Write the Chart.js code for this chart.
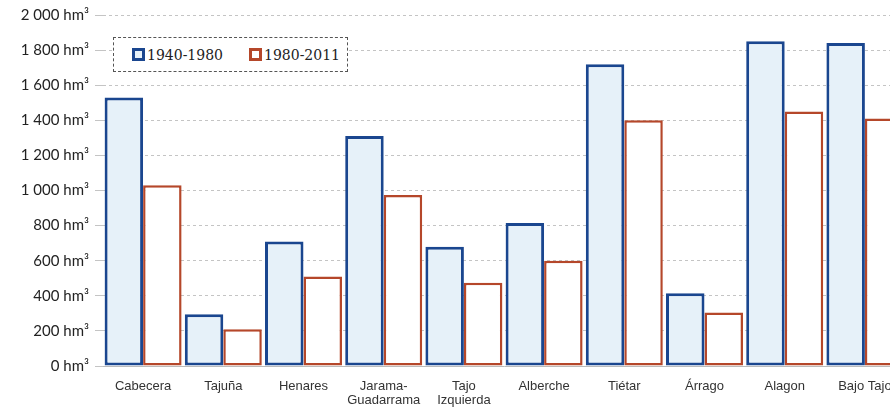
<!DOCTYPE html>
<html>
<head>
    <title>Aportaciones</title>
    <script src="https://cdn.jsdelivr.net/npm/chart.js"></script>
    <style>
        body { margin: 0; background: #fff; overflow: hidden; width: 890px; height: 409px; position: relative; }
        #legend {
            position: absolute; left: 113px; top: 37px; width: 235px; height: 35px;
            border: 1px dashed #555; background: #fff;
            font-family: "DejaVu Serif", "Liberation Serif", serif; font-size: 14px; color: #222;
            display: flex; align-items: center; box-sizing: border-box;
        }
        #legend span { display: inline-flex; align-items: center; }
        #legend i { display: inline-block; width: 7px; height: 7px; border: 3px solid; margin-right: 2px; }
    </style>
</head>
<body>
    <canvas id="chart" width="905" height="409"></canvas>
    <div id="legend">
        <span style="margin-left:18px"><i style="border-color:#1a468f;background:#e6f1f9"></i>1940-1980</span>
        <span style="margin-left:26px"><i style="border-color:#b5472a;background:#fff"></i>1980-2011</span>
    </div>

    <script>
        const categories = ['Cabecera', 'Tajuña', 'Henares', ['Jarama-', 'Guadarrama'], ['Tajo', 'Izquierda'],
            'Alberche', 'Tiétar', 'Árrago', 'Alagon', 'Bajo Tajo'];
        const series1940 = [1530, 295, 710, 1310, 680, 815, 1720, 415, 1850, 1840];
        const series1980 = [1030, 210, 510, 975, 475, 600, 1400, 305, 1450, 1410];

        function fmt(v) {
            const s = String(v);
            return (s.length > 3 ? s.slice(0, s.length - 3) + ' ' + s.slice(-3) : s) + ' hm³';
        }

        new Chart(document.getElementById('chart'), {
            type: 'bar',
            data: {
                labels: categories,
                datasets: [{
                    label: '1940-1980',
                    data: series1940,
                    backgroundColor: '#e6f1f9',
                    borderColor: '#1a468f',
                    borderWidth: 3,
                    borderSkipped: false
                }, {
                    label: '1980-2011',
                    data: series1980,
                    backgroundColor: '#ffffff',
                    borderColor: '#b5472a',
                    borderWidth: 2.5,
                    borderSkipped: false
                }]
            },
            options: {
                responsive: false,
                animation: false,
                layout: { padding: { top: 15, right: 0 } },
                plugins: { legend: { display: false }, tooltip: { enabled: false } },
                datasets: { bar: { barPercentage: 1, categoryPercentage: 0.96 } },
                scales: {
                    x: {
                        grid: { display: false },
                        border: { color: '#bbb' },
                        ticks: { color: '#333', font: { family: 'Liberation Sans', size: 13, lineHeight: 1.1 }, maxRotation: 0, padding: 5 },
                        afterFit: function(axis) { axis.height = 43; }
                    },
                    y: {
                        min: 0, max: 2000,
                        grid: { color: '#c4c4c4', drawTicks: true, tickLength: 8 },
                        border: { display: false, dash: [3, 3] },
                        ticks: {
                            stepSize: 200, color: '#222', padding: 6,
                            font: { family: 'Lato', size: 15 },
                            callback: function(v) { return fmt(v); }
                        },
                        afterFit: function(axis) { axis.width = 103; }
                    }
                }
            }
        });
    </script>
</body>
</html>
